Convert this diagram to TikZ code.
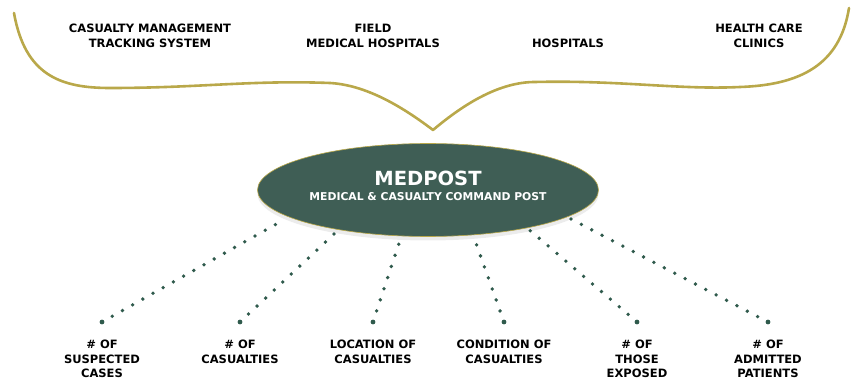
\documentclass[tikz,border=0pt]{standalone}
\usepackage{fontspec}
\setmainfont{DejaVu Sans}
\usepackage{xcolor}
\usepackage{tikz}
\usetikzlibrary{shapes.geometric}
\usetikzlibrary{positioning}
\usetikzlibrary{shadows}
\definecolor{postgreen}{HTML}{3F5E55}
\definecolor{dotgreen}{HTML}{2F5A4C}
\definecolor{bracegold}{HTML}{B9A84A}
\tikzset{
	x=1pt, y=-1pt,
	lbl/.style={
		font=\bfseries\fontsize{11.5}{14.5}\selectfont,
		align=center, inner sep=0pt, anchor=north},
	post/.style={
		ellipse, fill=postgreen, draw=bracegold, line width=0.6pt,
		minimum width=341pt, minimum height=93pt, inner sep=0pt,
		drop shadow={opacity=0.15, shadow xshift=0pt, shadow yshift=-4pt}},
	dot/.style={circle, fill=dotgreen, inner sep=0pt, minimum size=4.8pt},
	dots/.style={
		draw=dotgreen, line width=3.8pt, line cap=round,
		dash pattern=on 0pt off 11.7pt, shorten >=4pt},
	brace/.style={draw=bracegold, line width=2.6pt, line cap=round, line join=round}
}
\begin{document}
\begin{tikzpicture}
	\useasboundingbox (0,0) rectangle (851,379);

	% top row
	\node[lbl] (cmts) at (150,24) {CASUALTY MANAGEMENT\\TRACKING SYSTEM};
	\node[lbl] (fmh) at (373,24) {FIELD\\MEDICAL HOSPITALS};
	\node[lbl] (hosp) at (568,39) {HOSPITALS};
	\node[lbl] (hcc) at (759,24) {HEALTH CARE\\CLINICS};

	\coordinate (tip) at (433,130);
	\draw[brace] (14,13) .. controls (25,75) and (60,88) .. (110,88)
		.. controls (200,88) and (250,80) .. (330,83)
		.. controls (365,85) and (400,105) .. (tip)
		.. controls (465,103) and (500,82) .. (535,82)
		.. controls (620,80) and (680,90) .. (740,87)
		.. controls (800,85) and (840,65) .. (849,8);

	% command post
	\node[post] (medpost) at (428,190) {};
	\node[text=white, font=\bfseries\fontsize{19.5}{20}\selectfont] (mp) at (428,178) {MEDPOST};
	\node[text=white, font=\bfseries\fontsize{10.8}{12}\selectfont] (mcp) at (428,197) {MEDICAL \& CASUALTY COMMAND POST};

	% bottom row
	\node[dot] (d1) at (102,322) {};
	\node[dot] (d2) at (240,322) {};
	\node[dot] (d3) at (373,322) {};
	\node[dot] (d4) at (504,322) {};
	\node[dot] (d5) at (637,322) {};
	\node[dot] (d6) at (768,322) {};

	\draw[dots] (d1.center) -- (medpost.191);
	\draw[dots] (d2.center) -- (medpost.204);
	\draw[dots] (d3.center) -- (medpost.240);
	\draw[dots] (d4.center) -- (medpost.315);
	\draw[dots] (d5.center) -- (medpost.339);
	\draw[dots] (d6.center) -- (medpost.349);

	\node[lbl, below=18pt of d1.center] (l1) {\# OF\\SUSPECTED\\CASES};
	\node[lbl, below=18pt of d2.center] (l2) {\# OF\\CASUALTIES};
	\node[lbl, below=18pt of d3.center] (l3) {LOCATION OF\\CASUALTIES};
	\node[lbl, below=18pt of d4.center] (l4) {CONDITION OF\\CASUALTIES};
	\node[lbl, below=18pt of d5.center] (l5) {\# OF\\THOSE\\EXPOSED};
	\node[lbl, below=18pt of d6.center] (l6) {\# OF\\ADMITTED\\PATIENTS};
\end{tikzpicture}
\end{document}
